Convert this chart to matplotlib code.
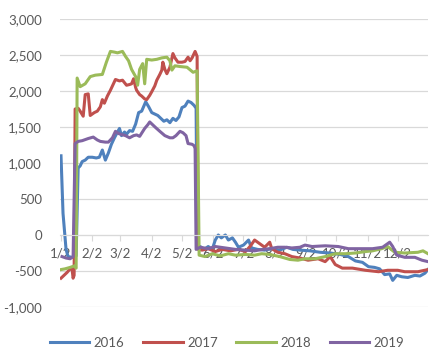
import matplotlib
matplotlib.use('Agg')
import matplotlib.pyplot as plt
from matplotlib.ticker import FuncFormatter

# day of year / value
days_2016 = [2, 4, 7, 9, 13, 17, 19, 21, 23, 26, 29, 33, 37, 40, 43, 46, 49, 52, 55, 58, 60, 62, 65, 67, 70, 73, 76,
             79, 82, 86, 89, 92, 95, 98, 101, 104, 107, 110, 113, 116, 119, 122, 125, 128, 131, 134, 136, 137, 140,
             144, 148, 152, 155, 158, 161, 165, 168, 172, 175, 178, 183, 188, 191, 197, 204, 211, 219, 226, 232,
             239, 249, 259, 269, 279, 287, 294, 301, 307, 313, 318, 323, 328, 331, 335, 340, 346, 353, 358, 363, 366]
vals_2016 = [1100, 300, -200, -300, -310, -290, 930, 960, 1020, 1040, 1080, 1080, 1070, 1080, 1180, 1040, 1140, 1260,
             1350, 1430, 1480, 1380, 1430, 1400, 1450, 1440, 1540, 1700, 1720, 1850, 1780, 1700, 1680, 1660, 1620,
             1580, 1600, 1560, 1620, 1590, 1640, 1770, 1790, 1860, 1840, 1800, 1760, -180, -160, -200, -160, -200,
             -70, 0, -40, 0, -70, -40, -100, -170, -140, -70, -180, -200, -210, -190, -210, -170, -200, -210, -220,
             -240, -250, -270, -300, -360, -380, -440, -450, -470, -550, -540, -630, -560, -580, -590, -560, -570,
             -530, -480]

days_2017 = [2, 5, 8, 11, 13, 14, 15, 16, 19, 21, 24, 26, 29, 31, 35, 38, 41, 43, 45, 48, 51, 54, 56, 60, 63, 67,
             70, 72, 74, 76, 77, 80, 82, 85, 87, 90, 92, 95, 97, 100, 102, 103, 105, 107, 110, 113, 115, 118, 122,
             125, 128, 130, 132, 135, 137, 138, 142, 148, 155, 162, 170, 178, 185, 190, 194, 199, 204, 209, 211,
             217, 224, 231, 239, 247, 257, 264, 269, 274, 281, 291, 304, 317, 326, 336, 343, 356, 366]
vals_2017 = [-600, -560, -520, -470, -480, -600, -560, 1750, 1760, 1720, 1650, 1950, 1960, 1660, 1700, 1720, 1780,
             1880, 1830, 1930, 2010, 2100, 2160, 2140, 2150, 2080, 2090, 2100, 2170, 2050, 2010, 1950, 1930, 1890,
             1880, 1940, 1990, 2070, 2150, 2230, 2290, 2400, 2300, 2240, 2330, 2520, 2460, 2400, 2400, 2410, 2470,
             2420, 2460, 2550, 2480, -200, -210, -190, -230, -200, -220, -200, -230, -150, -70, -120, -170, -100,
             -190, -240, -260, -300, -320, -350, -330, -370, -300, -410, -460, -460, -490, -510, -490, -490, -510,
             -510, -480]

days_2018 = [2, 6, 11, 15, 17, 18, 21, 26, 31, 36, 43, 47, 51, 55, 58, 63, 66, 69, 72, 76, 78, 80, 83, 85, 87, 92,
             97, 102, 107, 110, 112, 115, 120, 127, 133, 137, 139, 145, 152, 160, 168, 175, 185, 194, 201, 209, 219,
             229, 237, 244, 254, 264, 274, 284, 294, 304, 311, 320, 326, 333, 343, 356, 361, 366]
vals_2018 = [-480, -470, -450, -430, -460, 2180, 2060, 2100, 2200, 2220, 2230, 2400, 2550, 2540, 2530, 2550, 2480,
             2420, 2300, 2200, 2080, 2300, 2380, 2100, 2440, 2430, 2440, 2460, 2470, 2420, 2290, 2350, 2340, 2330,
             2260, 2280, -280, -300, -260, -290, -260, -280, -270, -280, -260, -270, -300, -340, -350, -330, -330,
             -300, -260, -260, -250, -230, -220, -190, -160, -240, -250, -240, -220, -260]

days_2019 = [3, 7, 11, 14, 16, 19, 23, 29, 34, 38, 41, 46, 49, 53, 56, 59, 61, 66, 70, 74, 77, 80, 85, 88, 90, 93,
             96, 100, 105, 110, 113, 116, 120, 123, 126, 128, 132, 134, 135, 136, 140, 148, 155, 165, 175, 185, 194,
             202, 209, 217, 224, 231, 239, 244, 251, 264, 277, 287, 297, 311, 321, 328, 331, 335, 343, 353, 360, 366]
vals_2019 = [-300, -320, -330, -300, 1270, 1300, 1310, 1340, 1360, 1320, 1300, 1290, 1290, 1350, 1440, 1410, 1400,
             1380, 1350, 1380, 1390, 1370, 1480, 1530, 1570, 1530, 1490, 1440, 1380, 1350, 1350, 1380, 1440, 1420,
             1380, 1270, 1260, 1240, 1200, -200, -170, -190, -160, -180, -200, -210, -220, -200, -190, -170, -170,
             -180, -170, -140, -160, -150, -160, -190, -190, -190, -170, -100, -160, -280, -310, -310, -350, -370]

tick_days = [2, 33, 61, 92, 122, 153, 183, 214, 245, 275, 306, 336]
tick_labels = ['1/2', '2/2', '3/2', '4/2', '5/2', '6/2', '7/2', '8/2', '9/2', '10/2', '11/2', '12/2']

plt.rcParams['font.family'] = ['Lato', 'DejaVu Sans']
plt.rcParams['font.size'] = 9.5
text_color = '#595959'
grid_color = '#D9D9D9'

fig = plt.figure(figsize=(4.47, 3.64), dpi=100)
ax = fig.add_axes([60 / 447, 1 - 307 / 364, 368 / 447, 288 / 364])

ax.plot(days_2016, vals_2016, color='#4F81BD', lw=2.2, label='2016')
ax.plot(days_2017, vals_2017, color='#C0504D', lw=2.2, label='2017')
ax.plot(days_2018, vals_2018, color='#9BBB59', lw=2.2, label='2018')
ax.plot(days_2019, vals_2019, color='#8064A2', lw=2.2, label='2019')

ax.set_xlim(1, 366)
ax.set_ylim(-1000, 3000)
ax.set_yticks(range(-1000, 3001, 500))
ax.yaxis.set_major_formatter(FuncFormatter(lambda v, p: f'{v:,.0f}'))
ax.grid(axis='y', color=grid_color, lw=0.9)
ax.set_axisbelow(True)

for s in ['top', 'right', 'left']:
    ax.spines[s].set_visible(False)
ax.spines['bottom'].set_position(('data', 0))
ax.spines['bottom'].set_color(grid_color)

ax.set_xticks(tick_days)
ax.set_xticklabels(tick_labels)
ax.tick_params(axis='x', length=4, color=grid_color, labelcolor=text_color, pad=5)
ax.tick_params(axis='y', length=0, labelcolor=text_color, pad=13)

fig.legend(loc='center', bbox_to_anchor=(0.508, 1 - 343 / 364), ncol=4, frameon=False,
           handlelength=3, columnspacing=1.4, handletextpad=0.35, labelcolor=text_color)

fig.savefig('out.png', dpi=100)
